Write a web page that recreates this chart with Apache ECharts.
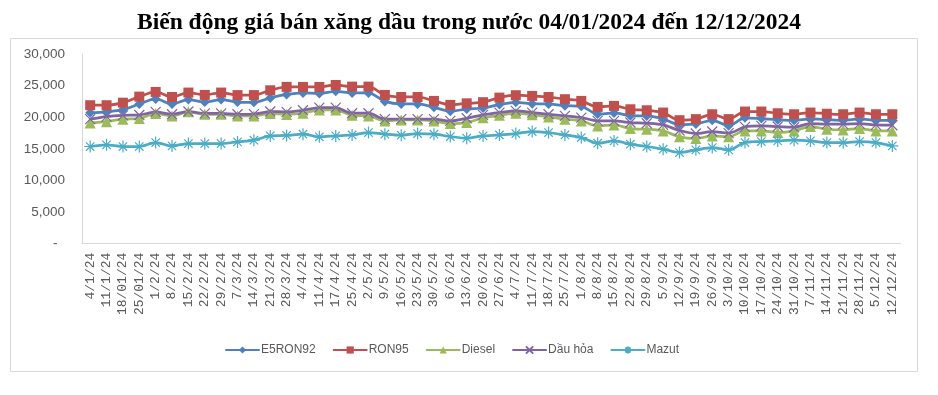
<!DOCTYPE html>
<html>
<head>
<meta charset="utf-8">
<script src="https://cdn.jsdelivr.net/npm/echarts@6/dist/echarts.min.js"></script>
<style>html,body{margin:0;padding:0;background:#fff}#c{width:938px;height:395px}</style>
</head>
<body>
<div id="c"></div>
<script>
const categories = ['4/1/24','11/1/24','18/01/24','25/01/24','1/2/24','8/2/24','15/2/24','22/2/24','29/2/24','7/3/24','14/3/24','21/3/24','28/3/24','4/4/24','11/4/24','17/4/24','25/4/24','2/5/24','9/5/24','16/5/24','23/5/24','30/5/24','6/6/24','13/6/24','20/6/24','27/6/24','4/7/24','11/7/24','18/7/24','25/7/24','1/8/24','8/8/24','15/8/24','22/8/24','29/8/24','5/9/24','12/9/24','19/9/24','26/9/24','3/10/24','10/10/24','17/10/24','24/10/24','31/10/24','7/11/24','14/11/24','21/11/24','28/11/24','5/12/24','12/12/24'];
const e5ron92 = [20700,20850,21200,22100,22900,22100,22800,22400,22800,22400,22350,23050,23600,23850,23750,24100,23850,23850,22500,22100,22100,21570,20950,21300,21460,22000,22350,22150,22100,21830,21730,20500,20670,20250,20200,19730,18830,18940,19520,18670,19900,19780,19620,19520,19730,19620,19520,19730,19520,19520];
const ron95 = [21900,21900,22300,23260,24000,23200,23900,23530,23900,23500,23500,24260,24800,24790,24790,25100,24840,24840,23530,23200,23200,22580,21950,22200,22380,23100,23480,23370,23200,22850,22580,21630,21790,21260,21100,20740,19530,19700,20470,19700,20900,20900,20630,20470,20740,20550,20470,20740,20470,20470];
const diesel = [19100,19300,19700,19800,20600,20200,20850,20470,20470,20200,20200,20600,20450,20630,21150,21150,20300,20200,19420,19580,19580,19420,19000,19160,19900,20300,20630,20400,20050,19700,19420,18630,18790,18210,18100,17840,16900,16630,17050,16900,17840,17840,17580,17840,18530,18100,18000,18210,17840,17840];
const dauhoa = [19700,20100,20300,20350,20840,20470,20900,20600,20600,20470,20500,20900,20840,21100,21530,21530,20630,20630,19700,19700,19700,19700,19420,19840,20380,20740,21000,20740,20470,20210,19950,19420,19420,19160,19050,18790,17900,17420,17740,17480,18470,18630,18530,18420,19000,18900,18900,19000,18790,18740];
const mazut = [15370,15630,15370,15370,16000,15470,15840,15840,15840,16100,16370,17050,17120,17320,16900,17050,17200,17580,17320,17160,17420,17320,16950,16680,17050,17200,17420,17740,17580,17200,16790,15890,16260,15740,15370,14950,14420,14840,15210,14840,16000,16160,16260,16370,16260,16000,16000,16160,16000,15470];
const seriesNames = ['E5RON92','RON95','Diesel','Dầu hỏa','Mazut'];
const yTicks = {min:0, max:30000, interval:5000};

const chart = echarts.init(document.getElementById('c'), null, {renderer:'canvas'});
const colors = ['#4F81BD','#C0504D','#9BBB59','#8064A2','#4BACC6'];
const symbols = ['diamond','rect','triangle','path://M0,0L10,10M10,0L0,10','path://M0,5L10,5M5,0L5,10M1.5,1.5L8.5,8.5M8.5,1.5L1.5,8.5'];
const sizes = [10,10,11,10,12];
const datas = [e5ron92, ron95, diesel, dauhoa, mazut];
const series = seriesNames.map((n,i)=>({
  name:n, type:'line', data:datas[i], smooth:0.3,
  symbol:symbols[i], symbolSize:sizes[i], showSymbol:true,
  lineStyle:{width:2.75,color:colors[i],cap:'round',join:'round'},
  itemStyle:{color: i>=3 ? 'rgba(0,0,0,0)' : colors[i], borderColor:colors[i], borderWidth: i>=3 ? 1.2 : 0},
  emphasis:{disabled:true}, animation:false
}));
chart.setOption({
  animation:false,
  color:colors,
  title:{text:'Biến động giá bán xăng dầu trong nước 04/01/2024 đến 12/12/2024', left:'center', top:6,
    textStyle:{fontFamily:'Liberation Serif', fontWeight:'bold', fontSize:23.5, color:'#000'}},
  graphic:[{type:'rect', shape:{x:10.5,y:38.5,width:907,height:333}, style:{fill:'none',stroke:'#d9d9d9',lineWidth:1}, silent:true}],
  legend:{left:220, top:339, itemWidth:33, itemHeight:9, itemGap:17,
    textStyle:{fontFamily:'Liberation Sans', fontSize:12, color:'#595959', padding:[0,0,0,-3]}, data:seriesNames},
  grid:{left:82, right:37.5, top:54, bottom:151.3, containLabel:false},
  xAxis:{type:'category', data:categories, boundaryGap:true,
    axisLine:{show:true,lineStyle:{color:'#d9d9d9'}}, axisTick:{show:false},
    axisLabel:{interval:0, rotate:90, margin:9, fontFamily:'Liberation Mono', fontSize:13, color:'#595959'}},
  yAxis:{type:'value', min:yTicks.min, max:yTicks.max, interval:yTicks.interval,
    splitLine:{show:false}, axisLine:{show:true,lineStyle:{color:'#d9d9d9'}}, axisTick:{show:false},
    axisLabel:{margin:17, fontFamily:'Liberation Sans', fontSize:13.5, color:'#595959',
      formatter:v=> v===0 ? '-  ' : v.toLocaleString('en-US')}},
  series:series
});
</script>
</body>
</html>
